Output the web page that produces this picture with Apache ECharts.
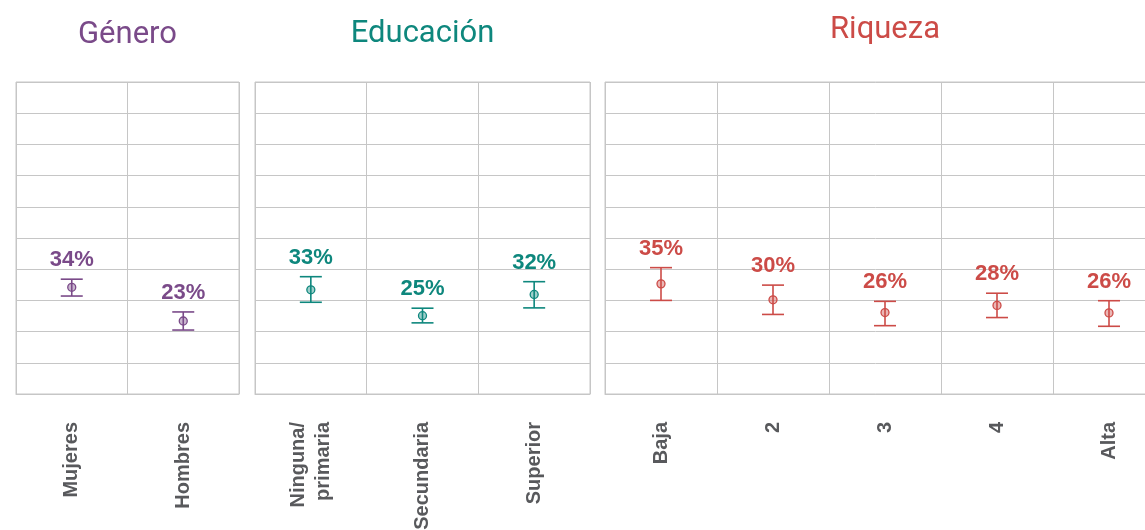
<!DOCTYPE html>
<html>
<head>
<meta charset="utf-8">
<script src="https://cdn.jsdelivr.net/npm/echarts@6/dist/echarts.min.js"></script>
<style>
html,body{margin:0;padding:0;background:#fff;}
#chart{width:1145px;height:530px;}
</style>
</head>
<body>
<div id="chart"></div>
<script>
// ---- Data ----
const panelTitles = ['Género', 'Educación', 'Riqueza'];

const genderCats = ['Mujeres', 'Hombres'];
const genderVals = [34.2, 23.4];
const genderLow  = [31.4, 20.5];
const genderHigh = [36.8, 26.3];

const eduCats = ['Ninguna/\nprimaria', 'Secundaria', 'Superior'];
const eduVals = [33.4, 25.1, 31.9];
const eduLow  = [29.4, 22.8, 27.6];
const eduHigh = [37.6, 27.5, 36.0];

const wealthCats = ['Baja', '2', '3', '4', 'Alta'];
const wealthVals = [35.3, 30.2, 26.1, 28.4, 26.0];
const wealthLow  = [30.0, 25.5, 21.9, 24.5, 21.7];
const wealthHigh = [40.5, 34.9, 29.7, 32.3, 29.9];

// ---- Styles ----
const colors = ['#7a4a89', '#0e877d', '#cc4b47'];
const gridColor = '#c6c6c6';
const labelFont = 'Liberation Sans, Arial, sans-serif';

function hexA(h, a) {
  const r = parseInt(h.slice(1, 3), 16), g = parseInt(h.slice(3, 5), 16), b = parseInt(h.slice(5, 7), 16);
  return 'rgba(' + r + ',' + g + ',' + b + ',' + a + ')';
}

const panels = [
  {cats: genderCats, vals: genderVals, low: genderLow, high: genderHigh, left: 16, width: 223, titleY: 20},
  {cats: eduCats, vals: eduVals, low: eduLow, high: eduHigh, left: 255, width: 335, titleY: 19},
  {cats: wealthCats, vals: wealthVals, low: wealthLow, high: wealthHigh, left: 605, width: 560, titleY: 15}
];

const grids = [], xAxes = [], yAxes = [], series = [], titles = [];

panels.forEach((p, k) => {
  const color = colors[k];
  grids.push({
    left: p.left, top: 82, width: p.width, height: 312,
    containLabel: false, outerBoundsMode: 'none',
    show: true, borderColor: gridColor, borderWidth: 1, backgroundColor: 'transparent'
  });
  xAxes.push({
    type: 'category', gridIndex: k, data: p.cats, boundaryGap: true,
    axisLine: {show: true, lineStyle: {color: gridColor, width: 1}},
    axisTick: {show: false},
    splitLine: {show: true, interval: 0, lineStyle: {color: gridColor, width: 1}},
    axisLabel: {
      interval: 0, rotate: 90, margin: 28, hideOverlap: false,
      color: '#58595c', fontFamily: labelFont, fontWeight: 'bold', fontSize: 20, lineHeight: 25
    }
  });
  yAxes.push({
    type: 'value', gridIndex: k, min: 0, max: 100, interval: 10,
    axisLabel: {show: false}, axisLine: {show: false}, axisTick: {show: false},
    splitLine: {show: true, lineStyle: {color: gridColor, width: 1}}
  });
  titles.push({
    text: panelTitles[k], left: p.left + p.width / 2, top: p.titleY, textAlign: 'center', padding: 0,
    textStyle: {fontFamily: 'Roboto', fontWeight: 'normal', fontSize: 31, color: color}
  });

  // error bars
  series.push({
    type: 'custom', xAxisIndex: k, yAxisIndex: k, z: 2,
    data: p.cats.map((c, i) => [i, p.low[i], p.high[i]]),
    encode: {x: 0, y: [1, 2]},
    renderItem: function (params, api) {
      const i = api.value(0);
      const lo = api.coord([i, api.value(1)]);
      const hi = api.coord([i, api.value(2)]);
      const hw = 11;
      const st = {stroke: color, lineWidth: 1.6};
      return {
        type: 'group',
        children: [
          {type: 'line', shape: {x1: lo[0], y1: lo[1], x2: hi[0], y2: hi[1]}, style: st},
          {type: 'line', shape: {x1: hi[0] - hw, y1: hi[1], x2: hi[0] + hw, y2: hi[1]}, style: st},
          {type: 'line', shape: {x1: lo[0] - hw, y1: lo[1], x2: lo[0] + hw, y2: lo[1]}, style: st}
        ]
      };
    },
    silent: true
  });
  // points
  series.push({
    type: 'scatter', xAxisIndex: k, yAxisIndex: k, z: 3,
    data: p.vals.map((v, i) => [i, v]),
    symbol: 'circle', symbolSize: 8,
    itemStyle: {color: hexA(color, 0.4), opacity: 1, borderColor: color, borderWidth: 1.3},
    silent: true,
    label: {show: false}
  });
  // value labels above the upper bound
  series.push({
    type: 'scatter', xAxisIndex: k, yAxisIndex: k, z: 4,
    data: p.high.map((h, i) => [i, h]),
    symbolSize: 0,
    itemStyle: {opacity: 1},
    silent: true,
    label: {
      show: true, position: 'top', distance: 8, opacity: 1,
      formatter: (d) => Math.round(p.vals[d.dataIndex]) + '%',
      color: color, fontFamily: labelFont, fontWeight: 'bold', fontSize: 22
    }
  });
});

const chart = echarts.init(document.getElementById('chart'), null, {renderer: 'canvas'});
chart.setOption({
  animation: false,
  backgroundColor: '#fff',
  title: titles,
  grid: grids,
  xAxis: xAxes,
  yAxis: yAxes,
  series: series
});
</script>
</body>
</html>
